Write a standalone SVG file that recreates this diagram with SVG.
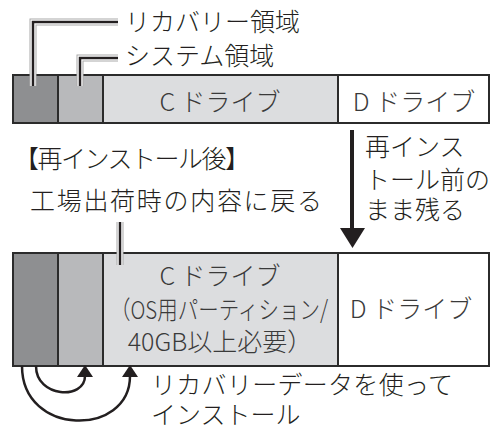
<svg xmlns="http://www.w3.org/2000/svg" width="498" height="431" viewBox="0 0 498 431">
<style>
text{font-family:"Noto Sans CJK JP","Noto Sans",sans-serif;font-size:25px;font-weight:300;fill:#231f20}
.g{fill:#3a3a3a}
.bd{stroke:#2b2b2b;stroke-width:2}
.halo{stroke:#aaa;stroke-width:7;fill:none}
.halo2{stroke:#fff;stroke-width:5;fill:none}
.ld{stroke:#231f20;stroke-width:2.5;fill:none}
.cv{stroke:#231f20;stroke-width:2.5;fill:none}
</style>
<g id="top-bar">
<rect x="13" y="75" width="45" height="48" fill="#8e8f91" class="bd"/>
<rect x="58" y="75" width="45" height="48" fill="#b8b9bb" class="bd"/>
<rect x="103" y="75" width="235" height="48" fill="#dcdddf" class="bd"/>
<rect x="338" y="75" width="151" height="48" fill="#fff" class="bd"/>
<text x="220" y="111" text-anchor="middle" class="g">C ドライブ</text>
<text x="414" y="111" text-anchor="middle" class="g">D ドライブ</text>
</g>
<g id="bottom-bar">
<rect x="13" y="253" width="45" height="113" fill="#8e8f91" class="bd"/>
<rect x="58" y="253" width="45" height="113" fill="#b8b9bb" class="bd"/>
<rect x="103" y="253" width="235" height="113" fill="#dcdddf" class="bd"/>
<rect x="338" y="253" width="151" height="113" fill="#fff" class="bd"/>
<text x="220" y="285" text-anchor="middle" class="g">C ドライブ</text>
<text x="219" y="319" text-anchor="middle" class="g" textLength="218" lengthAdjust="spacingAndGlyphs">（OS用パーティション/</text>
<text x="220" y="351" text-anchor="middle" class="g">40GB以上必要）</text>
<text x="411" y="318" text-anchor="middle" class="g">D ドライブ</text>
</g>
<g id="labels">
<text x="125" y="31">リカバリー領域</text>
<text x="125" y="65">システム領域</text>
<text x="14" y="168" textLength="236" lengthAdjust="spacing">【再インストール後】</text>
<text x="30" y="210" textLength="292" lengthAdjust="spacing">工場出荷時の内容に戻る</text>
<text x="365" y="156">再インス</text>
<text x="365" y="189">トール前の</text>
<text x="365" y="219">まま残る</text>
<text x="151" y="394" textLength="302" lengthAdjust="spacing">リカバリーデータを使って</text>
<text x="151" y="424">インストール</text>
</g>
<g id="connectors">
<path class="halo" d="M33,86V22H118"/>
<path class="halo2" d="M33,86V22H118"/>
<path class="ld" d="M33,86V22H118"/>
<path class="halo" d="M80,86V58H118"/>
<path class="halo2" d="M80,86V58H118"/>
<path class="ld" d="M80,86V58H118"/>
<path class="halo" d="M120,222V265"/>
<path class="halo2" d="M120,222V265"/>
<path class="ld" d="M120,222V265"/>
<line x1="352" y1="130" x2="352" y2="229" stroke="#231f20" stroke-width="4"/>
<path d="M340,228L365,228L352.5,248z" fill="#231f20"/>
<path class="cv" d="M36,366C36,398 85,400 85,376"/>
<path d="M77,377L93,377L85,365z" fill="#231f20"/>
<path class="cv" d="M22,366C22,437 130,437 130,376"/>
<path d="M122,377L138,377L130,365z" fill="#231f20"/>
</g>
</svg>
